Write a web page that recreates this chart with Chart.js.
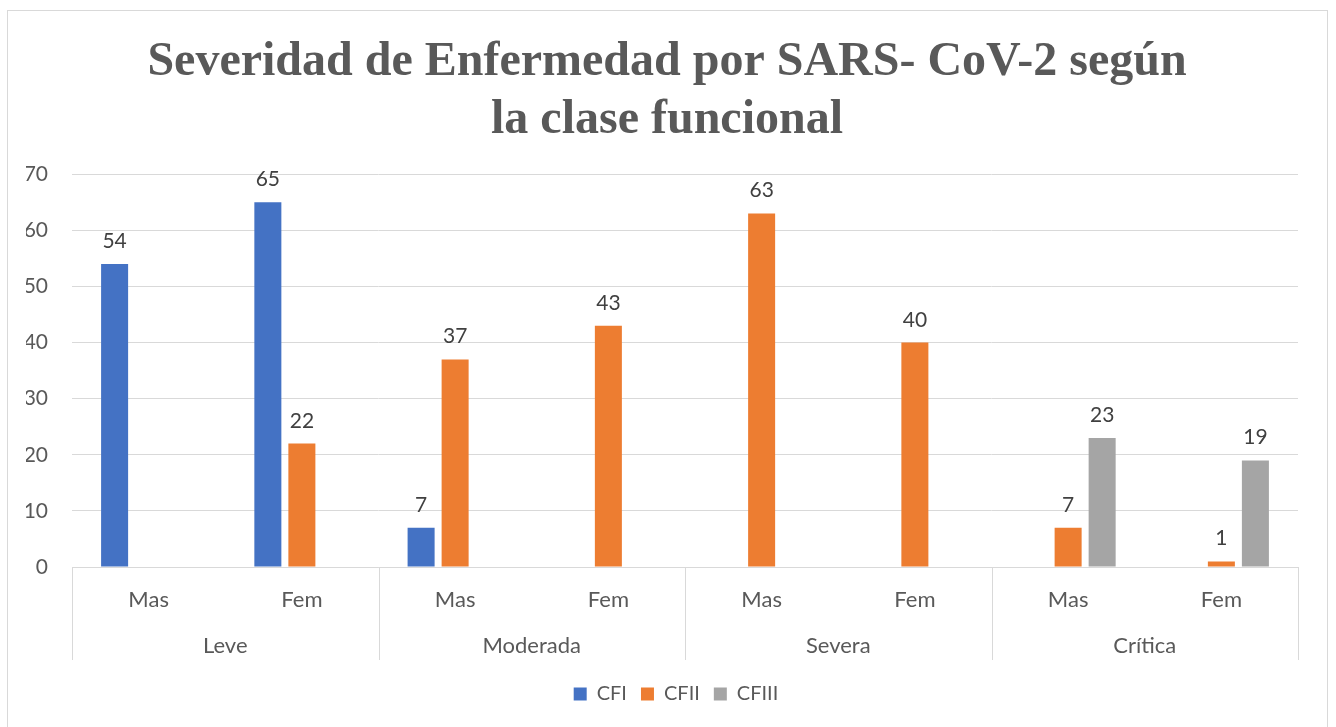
<!DOCTYPE html>
<html><head><meta charset="utf-8">
<script src="https://cdn.jsdelivr.net/npm/chart.js@4/dist/chart.umd.min.js"></script>
<style>
html,body{margin:0;padding:0;background:#fff;}
#wrap{position:relative;width:1336px;height:727px;overflow:hidden;}
#frame{position:absolute;left:7px;top:10px;width:1321px;height:740px;border:1px solid #d9d9d9;box-sizing:border-box;pointer-events:none;}
canvas{position:absolute;left:0;top:0;}
</style></head><body>
<div id="wrap"><canvas id="c" width="1336" height="727"></canvas><div id="frame"></div></div>
<script>
// ---- data ----
const sexLabels = ['Mas','Fem','Mas','Fem','Mas','Fem','Mas','Fem'];
const severityLabels = ['Leve','Moderada','Severa','Crítica'];
const seriesNames = ['CFI','CFII','CFIII'];
const cfi   = [54, 65, 7, null, null, null, null, null];
const cfii  = [null, 22, 37, 43, 63, 40, 7, 1];
const cfiii = [null, null, null, null, null, null, 23, 19];
const yTickValues = [0,10,20,30,40,50,60,70];
const titleLines = ['Severidad de Enfermedad por SARS- CoV-2 según','la clase funcional'];

const colors = ['#4472C4','#ED7D31','#A5A5A5'];
const labelFont = 'Lato';
const textColor = '#595959';
const lineColor = '#d9d9d9';

const valueLabels = {
  id: 'valueLabels',
  afterDatasetsDraw(chart) {
    const ctx = chart.ctx;
    ctx.save();
    ctx.font = '21px ' + labelFont;
    ctx.fillStyle = '#404040';
    ctx.textAlign = 'center';
    ctx.textBaseline = 'alphabetic';
    chart.data.datasets.forEach((ds, di) => {
      const meta = chart.getDatasetMeta(di);
      meta.data.forEach((el, i) => {
        const v = ds.data[i];
        if (v === null || v === undefined) return;
        ctx.fillText(String(v), el.x, el.y - 16);
      });
    });
    ctx.restore();
  }
};

// separators between the severity groups, placed from the group axis geometry
const groupSeparators = {
  id: 'groupSeparators',
  afterDraw(chart) {
    const g = chart.scales.x2;
    const area = chart.chartArea;
    const n = g.ticks.length;
    const xs = [area.left];
    for (let i = 1; i < n; i++) xs.push((g.getPixelForTick(i - 1) + g.getPixelForTick(i)) / 2);
    xs.push(area.right);
    const ctx = chart.ctx;
    ctx.save();
    ctx.strokeStyle = lineColor;
    ctx.lineWidth = 1;
    ctx.beginPath();
    xs.forEach(x => {
      const px = Math.round(x) + 0.5;
      ctx.moveTo(px, area.bottom);
      ctx.lineTo(px, g.bottom - 10);
    });
    ctx.stroke();
    ctx.restore();
  }
};

const boxShift = {
  id: 'boxShift',
  afterLayout(chart) {
    if (chart.legend) { chart.legend.left += 14; chart.legend.right += 14; }
    if (chart.titleBlock) { chart.titleBlock.left += 5; chart.titleBlock.right += 5; }
  }
};

new Chart(document.getElementById('c'), {
  type: 'bar',
  data: {
    labels: sexLabels,
    datasets: [
      { label: seriesNames[0], data: cfi,   backgroundColor: colors[0] },
      { label: seriesNames[1], data: cfii,  backgroundColor: colors[1] },
      { label: seriesNames[2], data: cfiii, backgroundColor: colors[2] }
    ]
  },
  options: {
    responsive: false,
    animation: false,
    devicePixelRatio: 1,
    categoryPercentage: 0.666,
    barPercentage: 0.794,
    layout: { padding: { left: 26, right: 38, top: 34, bottom: 13 } },
    plugins: {
      title: {
        display: true,
        text: titleLines,
        color: textColor,
        font: { family: 'Liberation Serif', size: 48, weight: 'bold', lineHeight: 1.2 },
        padding: { top: 0, bottom: 25 }
      },
      legend: {
        position: 'bottom',
        labels: {
          boxWidth: 13, boxHeight: 13, padding: 14,
          color: textColor,
          font: { family: labelFont, size: 20 }
        }
      },
      tooltip: { enabled: false }
    },
    scales: {
      x: {
        position: 'bottom',
        border: { display: true, color: lineColor },
        grid: { display: false },
        ticks: { color: textColor, font: { family: labelFont, size: 22 }, padding: 12, maxRotation: 0 },
        afterFit: (s) => { s.height = 44; }
      },
      x2: {
        type: 'category',
        labels: severityLabels,
        position: 'bottom',
        border: { display: false },
        grid: { display: false },
        ticks: { color: textColor, font: { family: labelFont, size: 22 }, padding: 14, maxRotation: 0 },
        afterFit: (s) => { s.height = 59; }
      },
      y: {
        min: 0, max: 70,
        border: { display: false },
        grid: { color: lineColor, drawTicks: false },
        afterBuildTicks: (s) => { s.ticks = yTickValues.map(v => ({ value: v })); },
        ticks: { color: textColor, font: { family: labelFont, size: 21 }, padding: 24 },
        afterFit: (s) => { s.width = 46; }
      }
    }
  },
  plugins: [valueLabels, groupSeparators, boxShift]
});
</script>
</body></html>
